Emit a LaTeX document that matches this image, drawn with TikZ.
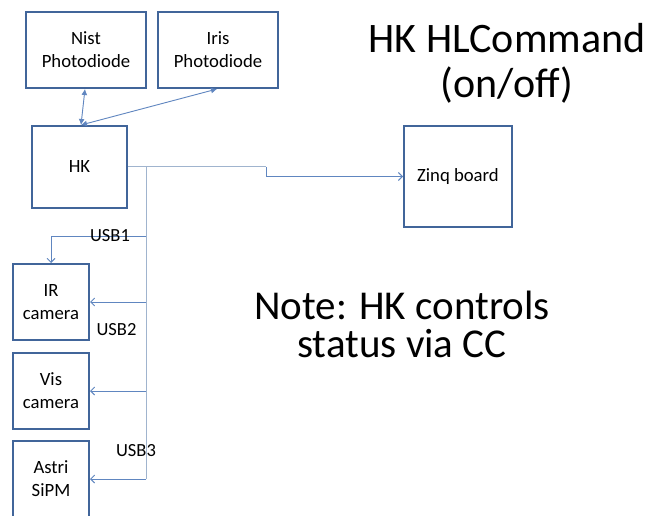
\documentclass[tikz,border=0pt]{standalone}
\usepackage{fontspec}
\setmainfont{Carlito}
\usetikzlibrary{arrows.meta}
\definecolor{boxc}{RGB}{65,101,154}
\definecolor{linkc}{RGB}{96,134,192}
\definecolor{busc}{RGB}{160,180,206}
\tikzset{
  blk/.style={draw=boxc, line width=2pt, fill=white, inner sep=0pt,
    align=center, font=\fontsize{18.7}{23}\selectfont},
  link/.style={draw=linkc, line width=0.9pt},
  bus/.style={draw=busc, line width=1pt},
  tri/.style={{Latex[length=6pt,width=6pt]}-{Latex[length=6pt,width=6pt]}},
  barb/.style={-{Straight Barb[length=4pt,width=8pt]}},
  lbl/.style={inner sep=0pt, font=\fontsize{18.5}{22}\selectfont},
}
\begin{document}
\begin{tikzpicture}[x=1pt,y=-1pt]
  \fill[white] (0,0) rectangle (646,516);
  \useasboundingbox (0,0) rectangle (646,516);
  \clip (0,0) rectangle (646,516);

  % boxes
  \node[blk, minimum width=120pt, minimum height=76pt] (nist) at (86,50) {Nist\\Photodiode};
  \node[blk, minimum width=120pt, minimum height=76pt] (iris) at (218,50) {Iris\\Photodiode};
  \node[blk, minimum width=95pt, minimum height=82pt] (hk) at (79.5,167) {HK};
  \node[blk, minimum width=108pt, minimum height=101pt] (zinq) at (458,176.5) {Zinq board};
  \node[blk, minimum width=76pt, minimum height=76pt] (ir) at (51,302) {IR\\camera};
  \node[blk, minimum width=76pt, minimum height=76pt] (vis) at (51,391) {Vis\\camera};
  \node[blk, minimum width=76pt, minimum height=76pt] (astri) at (51,479) {Astri\\SiPM};

  % photodiode links
  \draw[link, tri] ([xshift=-1pt]nist.south) -- ([xshift=1.5pt]hk.north);
  \draw[link, tri] ([xshift=1.5pt]hk.north) -- ([xshift=-1pt]iris.south);

  % HK to Zinq board
  \coordinate (jog) at (266,167);
  \draw[bus] (hk.east) -- (jog);
  \draw[link, barb] (jog) |- (zinq.west);

  % USB bus
  \coordinate (bustop) at (146,167);
  \coordinate (busbot) at (146,479);
  \coordinate (usbone) at (146,236);
  \draw[bus] (bustop) -- (busbot);
  \draw[link, barb] (usbone) -| (ir.north);
  \draw[link, barb] (ir.east -| bustop) -- (ir.east);
  \draw[link, barb] (vis.east -| bustop) -- (vis.east);
  \draw[link, barb] (busbot) -- (astri.east);

  % USB labels
  \node[lbl] (usb1) at (110,236) {USB1};
  \node[lbl] (usb2) at (116.5,330) {USB2};
  \node[lbl] (usb3) at (136,451) {USB3};

  % notes
  \node[anchor=north, inner sep=0pt, align=center,
        font=\fontsize{42}{45}\selectfont] (title) at (507,23) {HK HLCommand\\(on/off)};
  \node[anchor=north, inner sep=0pt, align=center,
        font=\fontsize{41}{38}\selectfont] (note) at (402,291) {Note: HK controls\\status via CC};
\end{tikzpicture}
\end{document}
